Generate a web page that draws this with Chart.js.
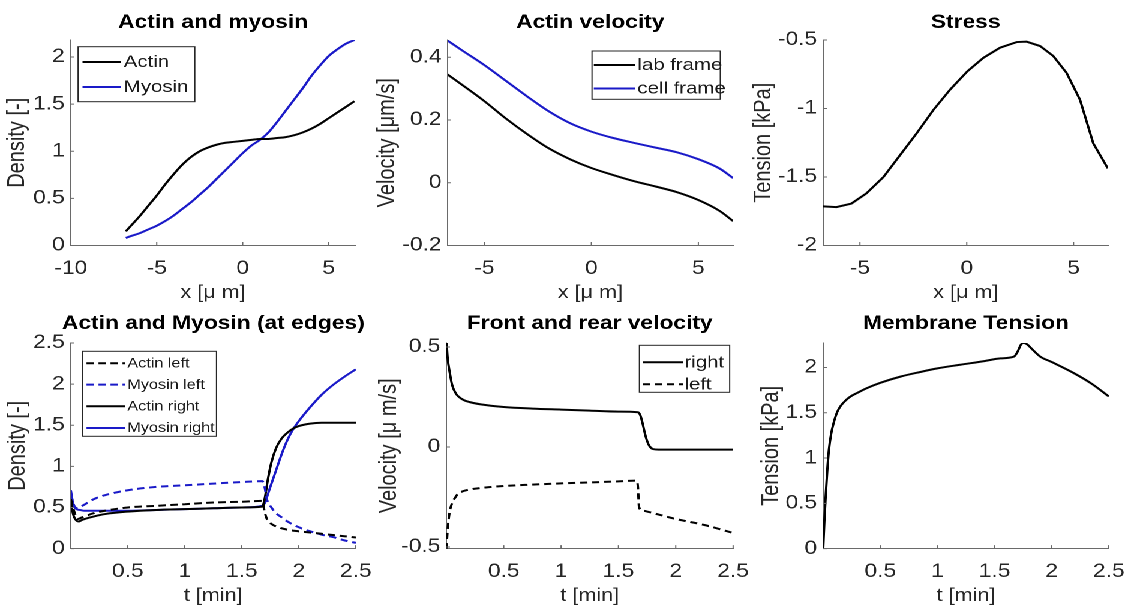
<!DOCTYPE html>
<html>
<head>
<meta charset="utf-8">
<script src="https://cdn.jsdelivr.net/npm/chart.js@4.4.0/dist/chart.umd.min.js"></script>
<style>
html,body{margin:0;padding:0;background:#fff;overflow:hidden;width:1133px;height:612px}
#fig{position:absolute;left:0;top:0;width:944.17px;height:612px;transform:scaleX(1.2);transform-origin:0 0}
#fig canvas{position:absolute}
</style>
</head>
<body>
<div id="fig"></div>
<script>
// ---------------- DATA ----------------
// Panel 1: Actin and myosin density along the cell
const p1X = [-6.8,-6.5,-6,-5.5,-5,-4.5,-4,-3.5,-3,-2.5,-2,-1.5,-1,-0.5,0,0.5,1,1.5,2,2.5,3,3.5,4,4.5,5,5.5,6,6.5];
const p1Actin = [0.15,0.21,0.31,0.42,0.53,0.65,0.76,0.86,0.94,1.00,1.04,1.07,1.09,1.10,1.11,1.12,1.13,1.13,1.14,1.15,1.17,1.20,1.24,1.29,1.35,1.41,1.47,1.53];
const p1Myosin = [0.08,0.10,0.13,0.17,0.21,0.26,0.32,0.39,0.46,0.54,0.62,0.71,0.80,0.89,0.98,1.06,1.12,1.20,1.31,1.43,1.55,1.67,1.80,1.91,2.01,2.08,2.14,2.18];
const p1XTicks = [-10,-5,0,5];
const p1YTicks = [0,0.5,1,1.5,2];

// Panel 2: Actin velocity
const p2X = [-6.72,-6,-5,-4,-3,-2,-1,0,1,2,3,4,5,6,6.62];
const p2Lab = [0.345,0.31,0.26,0.205,0.155,0.11,0.075,0.047,0.025,0.005,-0.012,-0.03,-0.055,-0.09,-0.122];
const p2Cell = [0.453,0.42,0.375,0.325,0.275,0.228,0.19,0.163,0.143,0.127,0.112,0.097,0.075,0.045,0.015];
const p2XTicks = [-5,0,5];
const p2YTicks = [-0.2,0,0.2,0.4];

// Panel 3: Stress
const p3X = [-6.73,-6.1,-5.4,-4.7,-3.9,-3.12,-2.34,-1.56,-0.78,0.03,0.78,1.56,2.34,2.8,3.43,4.05,4.67,5.3,5.92,6.6];
const p3Stress = [-1.714,-1.72,-1.694,-1.62,-1.50,-1.34,-1.18,-1.01,-0.862,-0.728,-0.63,-0.556,-0.515,-0.512,-0.544,-0.617,-0.74,-0.936,-1.254,-1.437];
const p3XTicks = [-5,0,5];
const p3YTicks = [-2,-1.5,-1,-0.5];

// Panel 4: Actin and Myosin at edges
const p4TActinLeft = [0,0.03,0.06,0.1,0.2,0.3,0.5,0.75,1,1.25,1.5,1.68,1.7,1.72,1.76,1.8,1.9,2.0,2.1,2.2,2.3,2.4,2.5];
const p4ActinLeft  = [0.6,0.45,0.36,0.38,0.43,0.46,0.5,0.52,0.54,0.56,0.57,0.58,0.45,0.36,0.3,0.27,0.23,0.21,0.195,0.18,0.165,0.15,0.135];
const p4TMyosinLeft = [0,0.03,0.06,0.1,0.15,0.2,0.3,0.5,0.75,1,1.25,1.5,1.68,1.7,1.72,1.76,1.8,1.85,1.9,2.0,2.1,2.2,2.3,2.4,2.5];
const p4MyosinLeft  = [0.66,0.52,0.49,0.52,0.56,0.6,0.65,0.71,0.75,0.77,0.79,0.81,0.82,0.75,0.6,0.5,0.43,0.38,0.33,0.26,0.21,0.17,0.14,0.1,0.07];
const p4TActinRight = [0,0.02,0.05,0.07,0.1,0.2,0.3,0.5,0.75,1,1.25,1.5,1.68,1.7,1.73,1.76,1.8,1.85,1.9,1.95,2.0,2.1,2.2,2.3,2.5];
const p4ActinRight  = [0.58,0.42,0.34,0.33,0.35,0.39,0.42,0.45,0.47,0.48,0.49,0.50,0.51,0.60,0.85,1.05,1.22,1.34,1.41,1.46,1.49,1.52,1.53,1.53,1.53];
const p4TMyosinRight = [0,0.02,0.05,0.08,0.12,0.2,0.3,0.5,0.75,1,1.25,1.5,1.68,1.7,1.75,1.8,1.85,1.9,1.95,2.0,2.1,2.2,2.3,2.4,2.5];
const p4MyosinRight  = [0.71,0.55,0.48,0.47,0.46,0.46,0.46,0.46,0.47,0.48,0.49,0.50,0.52,0.55,0.75,0.95,1.15,1.32,1.45,1.55,1.72,1.87,1.99,2.09,2.18];
const p4XTicks = [0.5,1,1.5,2,2.5];
const p4YTicks = [0,0.5,1,1.5,2,2.5];

// Panel 5: Front and rear velocity
const p5TRight = [0,0.01,0.03,0.05,0.08,0.1,0.15,0.2,0.3,0.5,0.75,1,1.25,1.5,1.67,1.69,1.71,1.73,1.75,1.77,1.8,1.85,2,2.25,2.5];
const p5Right  = [0.54,0.45,0.37,0.31,0.27,0.255,0.235,0.225,0.213,0.2,0.192,0.187,0.182,0.177,0.174,0.16,0.12,0.07,0.03,0.005,-0.01,-0.013,-0.013,-0.013,-0.013];
const p5TLeft = [0,0.01,0.02,0.03,0.05,0.08,0.1,0.15,0.2,0.3,0.5,0.75,1,1.25,1.5,1.66,1.67,1.68,1.7,1.8,2,2.25,2.5];
const p5Left  = [-0.51,-0.42,-0.36,-0.32,-0.28,-0.25,-0.235,-0.22,-0.213,-0.205,-0.195,-0.188,-0.182,-0.177,-0.172,-0.168,-0.2,-0.3,-0.315,-0.33,-0.36,-0.39,-0.43];
const p5XTicks = [0.5,1,1.5,2,2.5];
const p5YTicks = [-0.5,0,0.5];

// Panel 6: Membrane tension
const p6T = [0,0.01,0.02,0.035,0.05,0.07,0.09,0.12,0.15,0.2,0.24,0.3,0.38,0.5,0.68,0.85,1.0,1.2,1.41,1.55,1.67,1.7,1.73,1.75,1.78,1.83,1.9,2.0,2.19,2.35,2.5];
const p6Tension = [0,0.3,0.54,0.85,1.09,1.27,1.38,1.5,1.57,1.64,1.68,1.72,1.77,1.83,1.9,1.95,1.99,2.03,2.07,2.1,2.12,2.17,2.25,2.27,2.26,2.2,2.12,2.06,1.94,1.82,1.68];
const p6XTicks = [0.5,1,1.5,2,2.5];
const p6YTicks = [0,0.5,1,1.5,2];

// ---------------- STYLE / LAYOUT ----------------
const S = 1.2;             // horizontal stretch of the figure
const BLACK = '#000000', BLUE = '#1a1ac8', AXIS = '#6a6a6a', TEXT = '#262626';
const FONT = "'Liberation Sans', Arial, Helvetica, sans-serif";
const TICK_SIZE = 19, XLAB_SIZE = 18, YLAB_SIZE = 20;
const TH = 40, YW = 62, RPMIN = 24, XHMIN = 62;

const panels = [
  {title:'Actin and myosin', xLabel:'x [\u03bc m]', yLabel:'Density [-]', box:{l:71,r:355.5,t:40,b:245.5}, titleGap:17, yLabelDist:53.5,
   xMin:-10, xMax:6.55, yMin:0, yMax:2.18, xTicks:p1XTicks, yTicks:p1YTicks, smooth:true,
   series:[{label:'Actin', x:p1X, y:p1Actin, color:BLACK},{label:'Myosin', x:p1X, y:p1Myosin, color:BLUE}],
   legend:{box:[78.3,46.7,195,101.7], rows:[62,87], line:[82.7,121], textX:124, size:17}},
  {title:'Actin velocity', xLabel:'x [\u03bc m]', yLabel:'Velocity [\u03bcm/s]', box:{l:447.3,r:732.7,t:40,b:245.5}, titleGap:17, yLabelDist:59.8,
   xMin:-6.72, xMax:6.62, yMin:-0.2, yMax:0.455, xTicks:p2XTicks, yTicks:p2YTicks, smooth:true,
   series:[{label:'lab frame', x:p2X, y:p2Lab, color:BLACK},{label:'cell frame', x:p2X, y:p2Cell, color:BLUE}],
   legend:{box:[591.7,51,720,99.3], rows:[65,88.5], line:[593.5,635], textX:637, size:17}},
  {title:'Stress', xLabel:'x [\u03bc m]', yLabel:'Tension [kPa]', box:{l:823.3,r:1108.3,t:40,b:245.5}, titleGap:17, yLabelDist:59.3,
   xMin:-6.72, xMax:6.62, yMin:-2, yMax:-0.5, xTicks:p3XTicks, yTicks:p3YTicks, smooth:false,
   series:[{label:'Stress', x:p3X, y:p3Stress, color:BLACK}], legend:null},
  {title:'Actin and Myosin (at edges)', xLabel:'t [min]', yLabel:'Density [-]', box:{l:71,r:356,t:342.7,b:548.3}, titleGap:19.2, yLabelDist:53,
   xMin:0, xMax:2.5, yMin:0, yMax:2.5, xTicks:p4XTicks, yTicks:p4YTicks, smooth:true,
   series:[{label:'Actin left', x:p4TActinLeft, y:p4ActinLeft, color:BLACK, dash:true},
           {label:'Myosin left', x:p4TMyosinLeft, y:p4MyosinLeft, color:BLUE, dash:true},
           {label:'Actin right', x:p4TActinRight, y:p4ActinRight, color:BLACK},
           {label:'Myosin right', x:p4TMyosinRight, y:p4MyosinRight, color:BLUE}],
   legend:{box:[82.7,351,216.7,436], rows:[363,384.3,406,427.7], line:[86.7,125], textX:127.5, size:13.5}},
  {title:'Front and rear velocity', xLabel:'t [min]', yLabel:'Velocity [\u03bc m/s]', box:{l:446,r:732.7,t:342.7,b:548.3}, titleGap:19.2, yLabelDist:56.8,
   xMin:0, xMax:2.5, yMin:-0.508, yMax:0.52, xTicks:p5XTicks, yTicks:p5YTicks, smooth:true,
   series:[{label:'right', x:p5TRight, y:p5Right, color:BLACK},{label:'left', x:p5TLeft, y:p5Left, color:BLACK, dash:true}],
   legend:{box:[639,345,729.3,392], rows:[362,384], line:[642.7,682.7], textX:684, size:17}},
  {title:'Membrane Tension', xLabel:'t [min]', yLabel:'Tension [kPa]', box:{l:822.7,r:1108.3,t:342.7,b:548.3}, titleGap:19.2, yLabelDist:51.9,
   xMin:0, xMax:2.5, yMin:0, yMax:2.27, xTicks:p6XTicks, yTicks:p6YTicks, smooth:true,
   series:[{label:'Membrane tension', x:p6T, y:p6Tension, color:BLACK}], legend:null}
];

// ---------------- PLUGINS ----------------
const innerTicks = {
  id:'innerTicks',
  afterDatasetsDraw(chart){
    const {ctx, chartArea:a, scales:{x, y}} = chart;
    ctx.save(); ctx.strokeStyle = AXIS; ctx.lineWidth = 1; ctx.beginPath();
    x.ticks.forEach(t => { const p = x.getPixelForValue(t.value); ctx.moveTo(p, a.bottom); ctx.lineTo(p, a.bottom - 3.5); });
    y.ticks.forEach(t => { const p = y.getPixelForValue(t.value); ctx.moveTo(a.left, p); ctx.lineTo(a.left + 3, p); });
    ctx.stroke(); ctx.restore();
  }
};
function titlePlugin(p){
  return {id:'panelTitle', afterDraw(chart){
    const {ctx, chartArea:a} = chart;
    ctx.save(); ctx.fillStyle = '#000'; ctx.font = 'bold 19px ' + FONT;
    ctx.textAlign = 'center'; ctx.textBaseline = 'middle';
    ctx.fillText(p.title, (a.left + a.right) / 2, a.top - p.titleGap);
    ctx.restore();
  }};
}
function legendPlugin(p, ox, oy){
  return {id:'boxLegend', afterDraw(chart){
    const L = p.legend; if (!L) return;
    const {ctx} = chart;
    const X = v => v / S - ox, Y = v => v - oy;
    ctx.save();
    const bx = X(L.box[0]), by = Y(L.box[1]), bw = X(L.box[2]) - bx, bh = Y(L.box[3]) - by;
    ctx.fillStyle = '#fff'; ctx.fillRect(bx, by, bw, bh);
    ctx.strokeStyle = '#262626'; ctx.lineWidth = 1; ctx.strokeRect(bx, by, bw, bh);
    chart.data.datasets.forEach((ds, i) => {
      const ry = Y(L.rows[i]);
      ctx.strokeStyle = ds.borderColor; ctx.lineWidth = ds.borderWidth;
      ctx.setLineDash(ds.borderDash || []);
      ctx.beginPath(); ctx.moveTo(X(L.line[0]), ry); ctx.lineTo(X(L.line[1]), ry); ctx.stroke();
      ctx.setLineDash([]);
      ctx.fillStyle = '#1a1a1a'; ctx.font = L.size + 'px ' + FONT;
      ctx.textAlign = 'left'; ctx.textBaseline = 'middle';
      ctx.fillText(ds.label, X(L.textX), ry + 0.5);
    });
    ctx.restore();
  }};
}

// ---------------- BUILD ----------------
const fig = document.getElementById('fig');
panels.forEach(p => {
  const B = p.box;
  const innerW = (B.r - B.l) / S, innerH = B.b - B.t;
  const W = Math.ceil(innerW + YW + RPMIN), H = Math.ceil(innerH + TH + XHMIN);
  const RP = W - innerW - YW, XH = H - innerH - TH;
  const cl = B.l / S - YW, ct = B.t - TH;
  const cv = document.createElement('canvas');
  cv.width = W; cv.height = H;
  cv.style.left = cl + 'px'; cv.style.top = ct + 'px';
  fig.appendChild(cv);
  const xTitlePadBottom = (ct + H) - (B.b + 47.5) - XLAB_SIZE * 0.6;
  const yTitlePadTop = Math.max(0, YW - YLAB_SIZE * 0.6 - p.yLabelDist / S);
  new Chart(cv, {
    type:'line',
    data:{datasets: p.series.map(s => ({
      label:s.label,
      data:s.x.map((x, i) => ({x, y:s.y[i]})),
      borderColor:s.color, backgroundColor:s.color, borderWidth:2,
      borderDash:s.dash ? [6,4] : [],
      pointRadius:0, fill:false,
      tension:p.smooth ? 0.4 : 0,
      cubicInterpolationMode:p.smooth ? 'monotone' : 'default'
    }))},
    options:{
      responsive:false, animation:false, devicePixelRatio:2,
      layout:{padding:{left:0, right:RP, top:TH, bottom:0}},
      plugins:{legend:{display:false}, tooltip:{enabled:false}, title:{display:false}},
      scales:{
        x:{type:'linear', min:p.xMin, max:p.xMax,
           grid:{display:false, drawTicks:false, tickLength:0}, border:{display:true, color:AXIS, width:1},
           ticks:{autoSkip:false, maxRotation:0, padding:12, color:TEXT, font:{family:FONT, size:TICK_SIZE}, callback:v => String(v)},
           afterBuildTicks:s => { s.ticks = p.xTicks.map(v => ({value:v})); },
           afterFit:s => { s.height = XH; s.paddingLeft = 0; s.paddingRight = 0; },
           title:{display:true, text:p.xLabel, color:TEXT, font:{family:FONT, size:XLAB_SIZE}, padding:{top:0, bottom:xTitlePadBottom}}},
        y:{type:'linear', min:p.yMin, max:p.yMax,
           grid:{display:false, drawTicks:false, tickLength:0}, border:{display:true, color:AXIS, width:1},
           ticks:{autoSkip:false, padding:5, color:TEXT, font:{family:FONT, size:TICK_SIZE}, callback:v => String(v)},
           afterBuildTicks:s => { s.ticks = p.yTicks.map(v => ({value:v})); },
           afterFit:s => { s.width = YW; s.paddingTop = 0; s.paddingBottom = 0; },
           title:{display:true, text:p.yLabel, color:TEXT, font:{family:FONT, size:YLAB_SIZE}, padding:{top:yTitlePadTop, bottom:0}}}
      }
    },
    plugins:[innerTicks, titlePlugin(p), legendPlugin(p, cl, ct)]
  });
});
</script>
</body>
</html>
